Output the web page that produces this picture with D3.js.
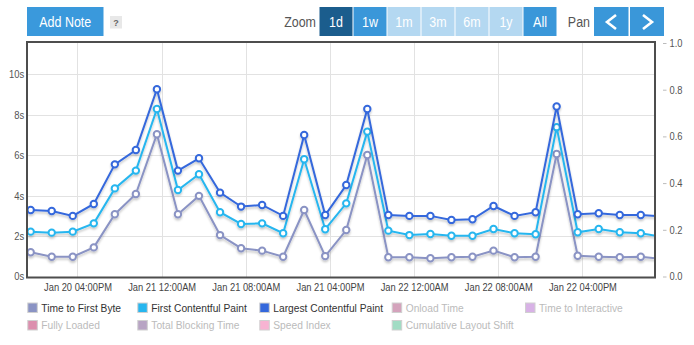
<!DOCTYPE html>
<html><head><meta charset="utf-8">
<script src="https://cdn.jsdelivr.net/npm/d3@7"></script>
<style>
html,body{margin:0;padding:0;background:#fff;}
svg{display:block;font-family:"Liberation Sans",Arial,sans-serif;}
</style></head>
<body><svg id="c" width="694" height="345"></svg>
<script>
const times = ["2021-01-20T11:33","2021-01-20T13:33","2021-01-20T15:33","2021-01-20T17:33","2021-01-20T19:33","2021-01-20T21:33","2021-01-20T23:33",
"2021-01-21T01:33","2021-01-21T03:33","2021-01-21T05:33","2021-01-21T07:33","2021-01-21T09:33","2021-01-21T11:33","2021-01-21T13:33","2021-01-21T15:33","2021-01-21T17:33","2021-01-21T19:33","2021-01-21T21:33","2021-01-21T23:33",
"2021-01-22T01:33","2021-01-22T03:33","2021-01-22T05:33","2021-01-22T07:33","2021-01-22T09:33","2021-01-22T11:33","2021-01-22T13:33","2021-01-22T15:33","2021-01-22T17:33","2021-01-22T19:33","2021-01-22T21:33","2021-01-22T23:33"];
const lcp  = [3.29,3.24,3.0,3.59,5.55,6.26,9.27,5.24,5.85,4.15,3.46,3.54,3.0,7.0,3.04,4.53,8.29,3.04,3.0,3.0,2.80,2.83,3.49,3.0,3.18,8.41,3.08,3.13,3.04,3.04,2.98];
const fcp  = [2.22,2.17,2.22,2.63,4.36,5.24,8.29,4.28,5.06,3.18,2.6,2.63,2.14,5.8,2.34,3.62,7.17,2.27,2.05,2.1,2.02,2.02,2.35,2.14,2.09,7.39,2.19,2.35,2.19,2.14,1.97];
const ttfb = [1.20,0.98,0.98,1.44,3.08,4.08,7.04,3.08,3.99,2.05,1.40,1.28,0.98,3.29,1.01,2.30,6.01,0.95,0.95,0.9,0.95,0.98,1.28,0.95,0.98,6.06,1.03,0.98,0.95,0.98,0.87];
const xTicks = ["2021-01-20T16:00","2021-01-21T00:00","2021-01-21T08:00","2021-01-21T16:00","2021-01-22T00:00","2021-01-22T08:00","2021-01-22T16:00"];
const xWindow = ["2021-01-20T11:12","2021-01-22T22:54"];
const yTicks = [0,2,4,6,8,10];
const yMax = 11.58;
const y2Ticks = [0,0.2,0.4,0.6,0.8,1.0];
const legendRow1 = ["Time to First Byte","First Contentful Paint","Largest Contentful Paint","Onload Time","Time to Interactive"];
const legendRow2 = ["Fully Loaded","Total Blocking Time","Speed Index","Cumulative Layout Shift"];
const legendColors1 = ["#8a93c4","#27b6ef","#3468dc","#d4a3bc","#d8b2e6"];
const legendColors2 = ["#dc8fae","#b8a4c4","#f7b3d2","#a2dcc4"];
const legendActive1 = [true,true,true,false,false];

const parse = d3.timeParse("%Y-%m-%dT%H:%M");
const svg = d3.select("#c");
const L=27, R=655, T=42, B=277.5;
const SX = 0.89;

const x = d3.scaleTime().domain(xWindow.map(parse)).range([L,R]);
const y = d3.scaleLinear().domain([0,yMax]).range([276.5,42.5]);
const y2 = d3.scaleLinear().domain([0,1]).range([276.5,43]);

// toolbar
const tb = svg.append("g");
function btn(x0,w,color,label){
  tb.append("rect").attr("x",x0).attr("y",7).attr("width",w).attr("height",29).attr("fill",color);
  if(label) tb.append("text").attr("transform",`translate(${x0+w/2},27) scale(${SX},1)`)
    .attr("text-anchor","middle").attr("font-size",14).attr("fill","#fff").text(label);
}
btn(27,76.5,"#3a99dc","Add Note");
tb.append("rect").attr("x",110).attr("y",16).attr("width",12).attr("height",12.5).attr("fill","#e8e8e8");
tb.append("text").attr("x",116).attr("y",25.5).attr("text-anchor","middle").attr("font-size",9).attr("font-weight","bold").attr("fill","#666").text("?");
tb.append("text").attr("transform",`translate(316,27) scale(${SX},1)`).attr("text-anchor","end").attr("font-size",14).attr("fill","#555").text("Zoom");
[["1d",319.5,"#1b5d8d"],["1w",353.5,"#3a97d9"],["1m",387.5,"#b4d8f1"],["3m",421.5,"#b4d8f1"],["6m",455.5,"#b4d8f1"],["1y",489.5,"#b4d8f1"],["All",523.5,"#3a97d9"]]
  .forEach(b=>btn(b[1],33,b[2],b[0]));
tb.append("text").attr("transform",`translate(590,27) scale(${SX},1)`).attr("text-anchor","end").attr("font-size",14).attr("fill","#555").text("Pan");
btn(594,34.5,"#3a97d9",null);
btn(630,34,"#3a97d9",null);
tb.append("path").attr("d","M616,15 L607,22 L616,29").attr("fill","none").attr("stroke","#fff").attr("stroke-width",2.6);
tb.append("path").attr("d","M643,15 L652,22 L643,29").attr("fill","none").attr("stroke","#fff").attr("stroke-width",2.6);

// defs
const defs = svg.append("defs");
defs.append("clipPath").attr("id","clip").append("rect").attr("x",L).attr("y",T).attr("width",R-L).attr("height",B-T);
const f = defs.append("filter").attr("id","sh").attr("x","-10%").attr("y","-10%").attr("width","120%").attr("height","130%");
f.append("feDropShadow").attr("dx",0).attr("dy",2).attr("stdDeviation",1.3).attr("flood-color","#000").attr("flood-opacity",0.22);

// grid
const g = svg.append("g");
g.selectAll(".hg").data(yTicks.filter(d=>d>0)).join("line")
  .attr("x1",L).attr("x2",R).attr("y1",d=>Math.round(y(d))+0.5).attr("y2",d=>Math.round(y(d))+0.5)
  .attr("stroke","#e2e2e2").attr("stroke-width",1);
g.selectAll(".vg").data(xTicks.map(parse)).join("line")
  .attr("x1",d=>Math.round(x(d))+0.5).attr("x2",d=>Math.round(x(d))+0.5).attr("y1",T).attr("y2",B)
  .attr("stroke","#e2e2e2").attr("stroke-width",1);

// series
const dates = times.map(parse);
const series = [
  {v:ttfb, c:"#8a93c4"},
  {v:fcp, c:"#27b6ef"},
  {v:lcp, c:"#3468dc"}
];
const plot = svg.append("g").attr("clip-path","url(#clip)");
const line = d3.line().x((d,i)=>x(dates[i])).y(d=>y(d));
series.forEach(s=>{
  const sg = plot.append("g").attr("filter","url(#sh)");
  sg.append("path").attr("d",line(s.v)).attr("fill","none").attr("stroke",s.c).attr("stroke-width",2);
  sg.selectAll("circle").data(s.v).join("circle")
    .attr("cx",(d,i)=>x(dates[i])).attr("cy",d=>y(d)).attr("r",3.2)
    .attr("fill","#fff").attr("stroke",s.c).attr("stroke-width",2);
});

// border
svg.append("rect").attr("x",L).attr("y",T).attr("width",R-L).attr("height",B-T)
  .attr("fill","none").attr("stroke","#4d4d4d").attr("stroke-width",2);

// axes
const xa = svg.append("g").attr("transform",`translate(0,${B})`)
  .call(d3.axisBottom(x).tickValues(xTicks.map(parse)).tickFormat(d3.timeFormat("%b %d %I:%M%p")).tickSize(0).tickPadding(6));
xa.select(".domain").remove();
xa.selectAll("text").attr("font-size",10.5).attr("fill","#444").attr("font-family","Liberation Sans, Arial, sans-serif").attr("transform",`scale(${SX},1)`);

const ya = svg.append("g").attr("transform",`translate(${L},0)`)
  .call(d3.axisLeft(y).tickValues(yTicks).tickFormat(d=>d+"s").tickSize(0).tickPadding(3));
ya.select(".domain").remove();
ya.selectAll("text").attr("font-size",10.5).attr("fill","#555").attr("font-family","Liberation Sans, Arial, sans-serif").attr("transform",`scale(0.9,1)`);

const y2a = svg.append("g").attr("transform",`translate(663,0)`)
  .call(d3.axisRight(y2).tickValues(y2Ticks).tickFormat(d3.format(".1f")).tickSize(3.5).tickPadding(2.5));
y2a.select(".domain").remove();
y2a.selectAll("line").attr("stroke","#bbb");
y2a.selectAll("text").attr("font-size",10.5).attr("fill","#555").attr("font-family","Liberation Sans, Arial, sans-serif").attr("transform",`scale(${SX},1)`).attr("x",6.5/SX);

// legend
const colX = [27.3,137.3,259.3,391.7,525];
function legendRow(names, colors, active, yTop){
  names.forEach((n,i)=>{
    svg.append("rect").attr("x",colX[i]+0.5).attr("y",yTop+0.5).attr("width",9.5).attr("height",9.5)
      .attr("fill",colors[i]).attr("stroke","#d0d0d0").attr("stroke-width",1);
    svg.append("text").attr("transform",`translate(${colX[i]+14},${yTop+9.3}) scale(${SX},1)`)
      .attr("font-size",11.5).attr("fill",active[i]?"#333":"#bbb").text(n);
  });
}
legendRow(legendRow1, legendColors1, legendActive1, 302.5);
legendRow(legendRow2, legendColors2, [false,false,false,false], 320);
</script></body></html>
